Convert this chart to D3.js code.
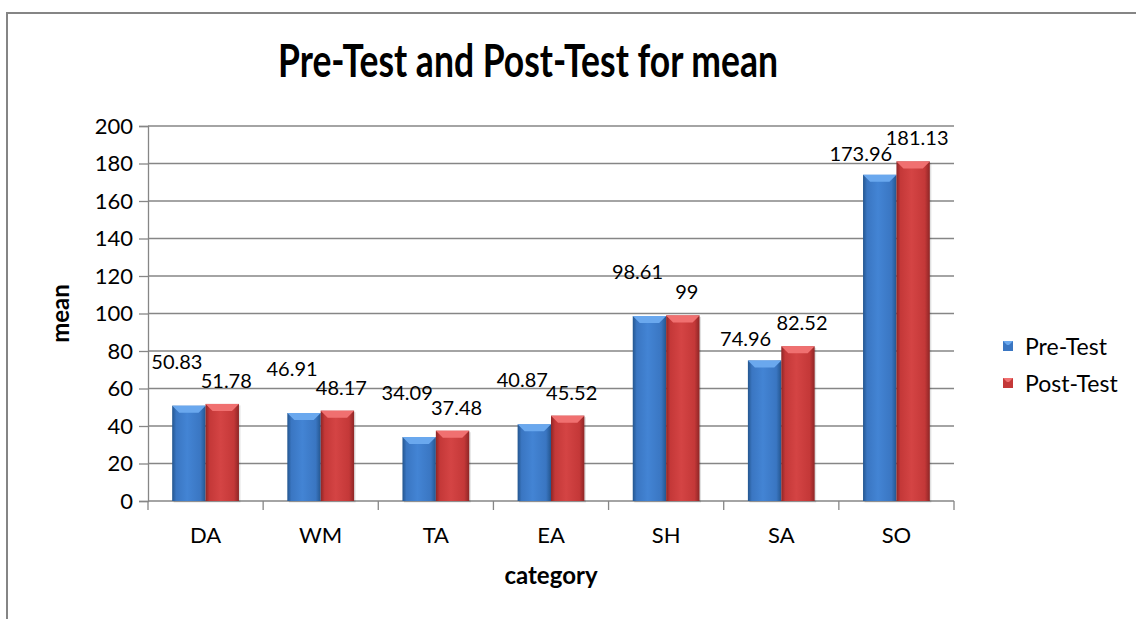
<!DOCTYPE html>
<html>
<head>
<meta charset="utf-8">
<script src="https://cdn.jsdelivr.net/npm/d3@7"></script>
<style>
  body { margin: 0; background: #fff; }
  svg { display: block; }
  text { font-family: Lato, "Open Sans", sans-serif; fill: #000; }
</style>
</head>
<body>
<svg id="chart" width="1136" height="619"></svg>
<script>
// data
var categories = ["DA", "WM", "TA", "EA", "SH", "SA", "SO"];
var seriesNames = ["Pre-Test", "Post-Test"];
var preTest = [50.83, 46.91, 34.09, 40.87, 98.61, 74.96, 173.96];
var postTest = [51.78, 48.17, 37.48, 45.52, 99, 82.52, 181.13];
var yTicks = [0, 20, 40, 60, 80, 100, 120, 140, 160, 180, 200];

var svg = d3.select("#chart");
var margin = { left: 148, right: 182, top: 126, bottom: 118 };
var width = 1136 - margin.left - margin.right,
    height = 619 - margin.top - margin.bottom;

// outer frame
svg.append("rect")
    .attr("x", 7).attr("y", 13)
    .attr("width", 1140).attr("height", 620)
    .attr("fill", "none")
    .attr("stroke", "#858585")
    .attr("stroke-width", 2);

var defs = svg.append("defs");
function makeGrad(id, edge, mid, light) {
    var g = defs.append("linearGradient").attr("id", id)
        .attr("x1", "0").attr("x2", "1").attr("y1", "0").attr("y2", "0");
    g.append("stop").attr("offset", "0").attr("stop-color", edge);
    g.append("stop").attr("offset", "0.12").attr("stop-color", mid);
    g.append("stop").attr("offset", "0.45").attr("stop-color", light);
    g.append("stop").attr("offset", "0.85").attr("stop-color", mid);
    g.append("stop").attr("offset", "1").attr("stop-color", edge);
}
makeGrad("gPre", "#24568f", "#3a76c2", "#4384d4");
makeGrad("gPost", "#8e2626", "#c43838", "#d44444");
var topColor = { "Pre-Test": "#6aa8ee", "Post-Test": "#f07070" };
var fillId = { "Pre-Test": "url(#gPre)", "Post-Test": "url(#gPost)" };
var legendFill = { "Pre-Test": "#3a76c2", "Post-Test": "#c43838" };

var g = svg.append("g").attr("transform", "translate(" + margin.left + "," + margin.top + ")");

var x = d3.scaleBand()
    .domain(categories)
    .range([0, width])
    .paddingInner(0.42)
    .paddingOuter(0.21);

var xs = d3.scaleBand()
    .domain(seriesNames)
    .range([0, x.bandwidth()]);

var y = d3.scaleLinear()
    .domain([0, 200])
    .range([height, 0]);

// gridlines
g.selectAll(".grid")
    .data(yTicks.slice(1))
    .enter().append("line")
    .attr("x1", 0).attr("x2", width)
    .attr("y1", function (d) { return y(d); })
    .attr("y2", function (d) { return y(d); })
    .attr("stroke", "#868686")
    .attr("stroke-width", 1.3);

// y axis
var yAxis = g.append("g")
    .call(d3.axisLeft(y).tickValues(yTicks).tickSize(9).tickPadding(6));
yAxis.select(".domain").attr("stroke", "#868686").attr("stroke-width", 1.3);
yAxis.selectAll(".tick line").attr("stroke", "#868686").attr("stroke-width", 1.3);
yAxis.selectAll(".tick text")
    .style("font-size", "22px")
    .style("font-family", "Lato, sans-serif")
    .attr("fill", "#000");

// x axis, ticks sit between categories
var xAxisG = g.append("g").attr("transform", "translate(0," + height + ")");
xAxisG.append("line")
    .attr("x1", 0).attr("x2", width)
    .attr("stroke", "#868686").attr("stroke-width", 1.3);
var bounds = categories.map(function (c) { return x(c) - x.step() * x.paddingOuter(); });
bounds.push(width);
xAxisG.selectAll(".xtick")
    .data(bounds)
    .enter().append("line")
    .attr("x1", function (d) { return d; })
    .attr("x2", function (d) { return d; })
    .attr("y1", 0).attr("y2", 9)
    .attr("stroke", "#868686").attr("stroke-width", 1.3);
xAxisG.selectAll(".xlab")
    .data(categories)
    .enter().append("text")
    .attr("x", function (d) { return x(d) + x.bandwidth() / 2; })
    .attr("y", 42)
    .attr("text-anchor", "middle")
    .style("font-size", "22px")
    .text(function (d) { return d; });

// bars
var rows = categories.map(function (c, i) {
    return { cat: c, vals: [{ s: "Pre-Test", v: preTest[i], other: postTest[i] }, { s: "Post-Test", v: postTest[i], other: preTest[i] }] };
});

var groups = g.selectAll(".grp")
    .data(rows)
    .enter().append("g")
    .attr("transform", function (d) { return "translate(" + x(d.cat) + ",0)"; });

var bars = groups.selectAll(".bar")
    .data(function (d) { return d.vals; })
    .enter().append("g");

bars.append("rect")
    .attr("x", function (d) { return xs(d.s) + 1.5; })
    .attr("y", function (d) { return y(d.v) + 1.5; })
    .attr("width", xs.bandwidth())
    .attr("height", function (d) { return height - y(d.v); })
    .attr("fill", "#000")
    .attr("opacity", 0.12);

bars.append("rect")
    .attr("x", function (d) { return xs(d.s); })
    .attr("y", function (d) { return y(d.v); })
    .attr("width", xs.bandwidth())
    .attr("height", function (d) { return height - y(d.v); })
    .attr("fill", function (d) { return fillId[d.s]; });

// top bevel
bars.append("path")
    .attr("d", function (d) {
        var x0 = xs(d.s), w = xs.bandwidth(), t = y(d.v), b = 7;
        return "M" + x0 + "," + t + "L" + (x0 + w) + "," + t +
            "L" + (x0 + w - b) + "," + (t + b) + "L" + (x0 + b) + "," + (t + b) + "Z";
    })
    .attr("fill", function (d) { return topColor[d.s]; });

// value labels (pre label sits lower when the post bar is clearly taller)
bars.append("text")
    .attr("x", function (d) {
        var cx = xs(d.s) + xs.bandwidth() / 2;
        if (d.s == "Post-Test") return cx + 4;
        return (d.other - d.v > 6) ? cx - 19 : cx - 12;
    })
    .attr("y", function (d) {
        var lift;
        if (d.s == "Post-Test") lift = 24;
        else lift = (d.other - d.v > 6) ? 22 : 45;
        return y(d.v) - lift + 8;
    })
    .attr("text-anchor", "middle")
    .style("font-size", "20px")
    .text(function (d) { return d.v; });

// titles
svg.append("text")
    .attr("x", 528).attr("y", 77)
    .attr("text-anchor", "middle")
    .attr("textLength", 500)
    .attr("lengthAdjust", "spacingAndGlyphs")
    .style("font-size", "46px")
    .style("font-weight", "bold")
    .text("Pre-Test and Post-Test for mean");

svg.append("text")
    .attr("transform", "translate(69," + (margin.top + height / 2) + ") rotate(-90)")
    .attr("text-anchor", "middle")
    .style("font-size", "24px")
    .style("font-weight", "bold")
    .text("mean");

svg.append("text")
    .attr("x", margin.left + width / 2).attr("y", 584)
    .attr("text-anchor", "middle")
    .style("font-size", "24px")
    .style("font-weight", "bold")
    .text("category");

// legend
var legend = svg.selectAll(".leg")
    .data(seriesNames)
    .enter().append("g")
    .attr("transform", function (d, i) { return "translate(1003," + (341 + i * 37) + ")"; });
legend.append("rect")
    .attr("width", 10).attr("height", 10)
    .attr("fill", function (d) { return legendFill[d]; });
legend.append("path")
    .attr("d", "M0,0L10,0L6,4L4,4Z")
    .attr("fill", function (d) { return topColor[d]; });
legend.append("text")
    .attr("x", 22).attr("y", 14)
    .style("font-size", "23px")
    .text(function (d) { return d; });
</script>
</body>
</html>
